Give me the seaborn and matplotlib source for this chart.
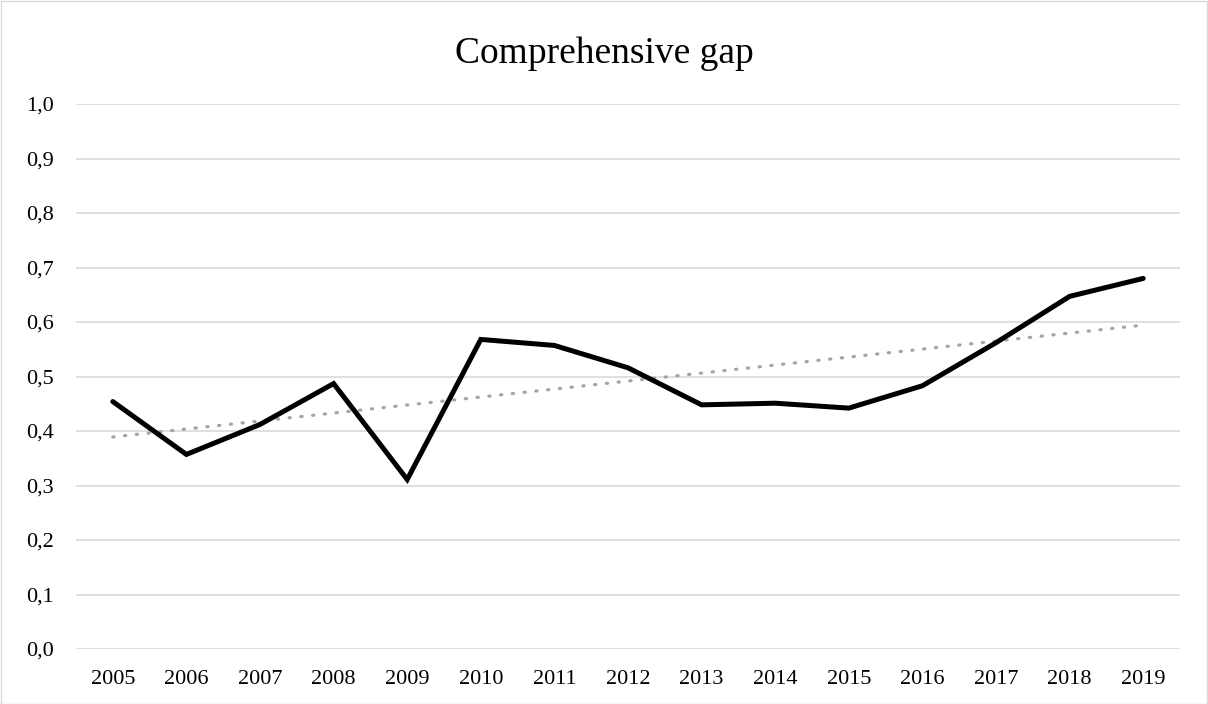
import matplotlib
matplotlib.use('Agg')
import matplotlib.pyplot as plt
import seaborn as sns
import numpy as np
import pandas as pd
from matplotlib.patches import Rectangle

# === DATA ===
years = [2005, 2006, 2007, 2008, 2009, 2010, 2011, 2012, 2013, 2014, 2015, 2016, 2017, 2018, 2019]
gap = [0.454, 0.357, 0.412, 0.487, 0.311, 0.568, 0.557, 0.516, 0.448, 0.451, 0.442, 0.483, 0.562, 0.647, 0.680]
y_ticks = [0.0, 0.1, 0.2, 0.3, 0.4, 0.5, 0.6, 0.7, 0.8, 0.9, 1.0]

df = pd.DataFrame({'year': [str(y) for y in years], 'gap': gap})
df['pos'] = np.arange(len(df))

# linear trend line (like Excel's)
coef = np.polyfit(df['pos'], df['gap'], 1)
df['trend'] = np.polyval(coef, df['pos'])

sns.set_style("white")
plt.rcParams['font.family'] = ['Liberation Serif', 'DejaVu Serif']

fig = plt.figure(figsize=(12.08, 7.04), dpi=100)
ax = fig.add_axes([76 / 1208, 1 - 649 / 704, (1180 - 76) / 1208, (649 - 104) / 704])

for t in y_ticks:
    ax.axhline(t, color='#D9D9D9', linewidth=1.2, zorder=0)

sns.lineplot(data=df, x='pos', y='trend', ax=ax, color='#A5A5A5', linewidth=2.3,
             linestyle=(0, (0.4, 3.3)), dash_capstyle='round', zorder=2)
sns.lineplot(data=df, x='pos', y='gap', ax=ax, color='black', linewidth=3.6,
             solid_capstyle='round', solid_joinstyle='miter', zorder=3)

ax.set_xlim(-0.5, len(years) - 0.5)
ax.set_ylim(0, 1.0)
ax.set_xticks(df['pos'])
ax.set_xticklabels(df['year'], fontsize=16, color='black')
ax.set_yticks(y_ticks)
ax.set_yticklabels([f'{t:.1f}'.replace('.', ',') for t in y_ticks], fontsize=16, color='black')
ax.tick_params(axis='both', length=0)
ax.tick_params(axis='x', pad=15)
ax.tick_params(axis='y', pad=16)
ax.set_xlabel('')
ax.set_ylabel('')
for s in ax.spines.values():
    s.set_visible(False)

fig.text(0.5, 1 - 54 / 704, 'Comprehensive gap', ha='center', va='center', fontsize=27, color='black')

fig.patches.append(Rectangle((0.5 / 1208, 0.5 / 704), 1 - 1.5 / 1208, 1 - 1.5 / 704,
                             transform=fig.transFigure, fill=False, edgecolor='#D9D9D9',
                             linewidth=1))

fig.savefig('out.png', dpi=100)
plt.close(fig)
